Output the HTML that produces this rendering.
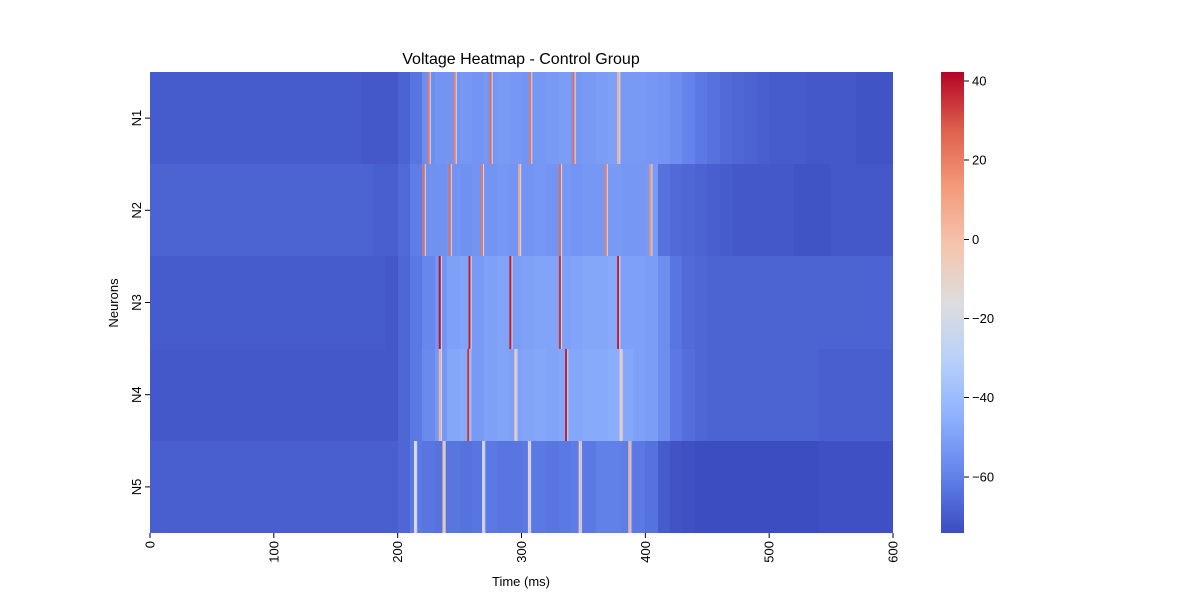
<!DOCTYPE html>
<html><head><meta charset="utf-8"><style>
body{margin:0;background:#fff;}
svg{display:block;font-family:"Liberation Sans","DejaVu Sans",sans-serif;}
</style></head><body>
<svg id="chart" width="1200" height="600" viewBox="0 0 1200 600">
<text x="521" y="64" text-anchor="middle" font-size="16" fill="#000">Voltage Heatmap - Control Group</text>
<g id="cells" shape-rendering="crispEdges"></g>
<g id="spikes"></g>
<g id="xaxis"></g>
<g id="yaxis"></g>
<text x="521" y="586" text-anchor="middle" font-size="13">Time (ms)</text>
<text transform="translate(118,303) rotate(-90)" text-anchor="middle" font-size="13">Neurons</text>
<g id="cbar" shape-rendering="crispEdges"></g>
</svg>
<script>
// ---- data ----
const neurons = ["N1","N2","N3","N4","N5"];
const binMs = 10;
// background voltage per 10 ms bin (60 bins, 0..590 ms)
const bgN1 = [-70,-70,-70,-70,-70,-70,-70,-70,-70,-70,-70,-70,-70,-70,-70,-70,-70,-71,-71,-71,-68,-63,-56,-54,-54,-53,-54,-53,-52,-53,-54,-53,-52,-51,-53,-52,-51,-50,-52,-52,-53,-54,-56,-59,-62,-64,-66,-67,-68,-69,-70,-70,-70,-71,-71,-71,-71,-72,-72,-72];
const bgN2 = [-68,-68,-68,-68,-68,-68,-68,-68,-68,-68,-68,-68,-68,-68,-68,-68,-68,-68,-69,-69,-66,-61,-55,-55,-54,-55,-54,-54,-53,-54,-54,-53,-54,-53,-54,-53,-53,-52,-53,-53,-52,-64,-66,-67,-68,-69,-70,-71,-71,-71,-71,-71,-72,-72,-72,-71,-71,-71,-71,-71];
const bgN3 = [-70,-70,-70,-70,-70,-70,-70,-70,-70,-70,-70,-70,-70,-70,-70,-70,-70,-70,-70,-71,-67,-62,-58,-54,-50,-49,-52,-50,-49,-51,-50,-49,-49,-50,-49,-48,-48,-47,-50,-50,-51,-56,-63,-66,-67,-68,-68,-68,-68,-68,-68,-68,-68,-68,-68,-68,-68,-68,-68,-68];
const bgN4 = [-71,-71,-71,-71,-71,-71,-71,-71,-71,-71,-71,-71,-71,-71,-71,-71,-71,-71,-71,-71,-67,-62,-57,-53,-48,-47,-52,-50,-49,-50,-49,-48,-49,-48,-48,-47,-47,-46,-48,-50,-51,-56,-62,-65,-67,-68,-68,-68,-68,-68,-68,-68,-68,-68,-69,-69,-69,-69,-69,-69];
const bgN5 = [-69,-69,-69,-69,-69,-69,-69,-69,-69,-69,-69,-69,-69,-69,-69,-69,-69,-69,-69,-69,-67,-62,-63,-64,-63,-64,-63,-62,-63,-63,-62,-62,-63,-62,-61,-62,-60,-60,-61,-62,-64,-70,-72,-73,-74,-74,-74,-74,-74,-74,-74,-74,-74,-74,-73,-73,-73,-73,-73,-73];
const backgrounds = [bgN1,bgN2,bgN3,bgN4,bgN5];
// spike times (ms) and peak voltages
const spikeT = [
 [225,246,275,307,342,378],
 [221,242,268,298,331,368,404],
 [234,258,291,331,378],
 [234,257,295,336,380],
 [214,237,269,306,347,387]
];
const spikeV = [
 [22,20,25,22,25,5],
 [25,25,22,10,25,20,15],
 [40,38,38,35,38],
 [5,35,-5,38,-5],
 [-15,0,-20,-10,-5,5]
];
const cbTicks = [40,20,0,-20,-40,-60];
// ---- scales ----
const X0=150,X1=893,Y0=72,Y1=533,TMAX=600;
const vmin=-74.2,vmax=42.3;
const xs=t=>X0+(t/TMAX)*(X1-X0);
const rowH=(Y1-Y0)/neurons.length;
const cmStops=[[59,76,192],[98,130,234],[141,176,254],[184,208,249],[221,221,221],[245,196,173],[244,154,123],[222,96,77],[180,4,38]];
function cmap(v){let f=(v-vmin)/(vmax-vmin);f=Math.max(0,Math.min(1,f));const p=f*8,i=Math.min(7,Math.floor(p)),r=p-i;const a=cmStops[i],b=cmStops[i+1];return `rgb(${a.map((c,k)=>Math.round(c+(b[k]-c)*r)).join(',')})`;}
const NS="http://www.w3.org/2000/svg";
function mk(tag,attrs,parent){const e=document.createElementNS(NS,tag);for(const k in attrs)e.setAttribute(k,attrs[k]);parent.appendChild(e);return e;}
const cells=document.getElementById('cells'),spk=document.getElementById('spikes');
backgrounds.forEach((arr,ni)=>{
 const y=Math.round(Y0+ni*rowH), y2=Math.round(Y0+(ni+1)*rowH);
 arr.forEach((v,bi)=>{
  const x=Math.round(xs(bi*binMs)),x2=Math.round(xs((bi+1)*binMs));
  const r=mk('rect',{x:x,y:y,width:x2-x,height:y2-y,fill:cmap(v)},cells);
  
  
 });
});
spikeT.forEach((ts,ni)=>{
 const y=Math.round(Y0+ni*rowH), y2=Math.round(Y0+(ni+1)*rowH);
 ts.forEach((t,si)=>{
  const v=spikeV[ni][si];
  const h=mk('rect',{x:xs(t)+1,y:y,width:1.2,height:y2-y,fill:cmap(-25)},spk);
  
  
  const r=mk('rect',{x:xs(t)-1,y:y,width:2,height:y2-y,fill:cmap(v)},spk);
  
  
 });
});
// x axis
const xa=document.getElementById('xaxis');
for(let t=0;t<=600;t+=100){
 const x=xs(t);
 const l=mk('line',{x1:x,x2:x,y1:Y1,y2:Y1+5,stroke:'#000','stroke-width':1},xa);
 
 
 const tx=mk('text',{transform:`translate(${x+4.5},${Y1+8}) rotate(-90)`,'text-anchor':'end','font-size':13},xa);
 tx.textContent=t;
 
 
}
// y axis
const ya=document.getElementById('yaxis');
neurons.forEach((n,i)=>{
 const y=Y0+(i+0.5)*rowH;
 const l=mk('line',{x1:X0-5,x2:X0,y1:y,y2:y,stroke:'#000','stroke-width':1},ya);
 
 
 const tx=mk('text',{transform:`translate(${X0-9},${y}) rotate(-90)`,'text-anchor':'middle','font-size':13},ya);
 tx.textContent=n;
 
 
});
// colorbar
const cb=document.getElementById('cbar');
const CX=941,CW=23;
const cy=v=>Y1-(v-vmin)/(vmax-vmin)*(Y1-Y0);
for(let i=0;i<461;i++){
 const y=Y0+i;
 const v=vmax-(i+0.5)/(Y1-Y0)*(vmax-vmin);
 const r=mk('rect',{x:CX,y:y,width:CW,height:1,fill:cmap(v)},cb);
 
 
}
cbTicks.forEach(v=>{
 const y=cy(v);
 const l=mk('line',{x1:CX+CW,x2:CX+CW+5,y1:y,y2:y,stroke:'#000','stroke-width':1},cb);
 
 
 const tx=mk('text',{x:CX+CW+8,y:y+4.5,'font-size':13},cb);
 tx.textContent=v<0?'\u2212'+Math.abs(v):String(v);
 
 
});
</script>
</body></html>
